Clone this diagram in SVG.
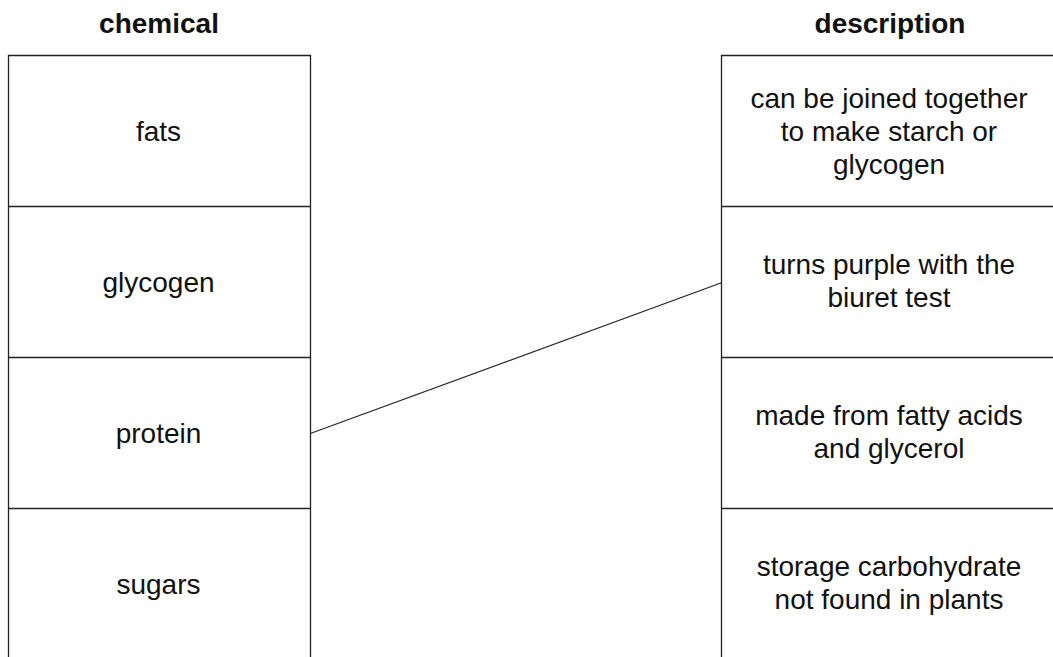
<svg xmlns="http://www.w3.org/2000/svg" width="1053" height="657" viewBox="0 0 1053 657">
<style>
.box{fill:none;stroke:#222;stroke-width:1.3}
.t{font-family:"Liberation Sans",Arial,sans-serif;font-size:28px;fill:#111;text-anchor:middle}
.h{font-weight:bold}
.c{stroke:#222;stroke-width:1.2;fill:none}
</style>
<rect width="1053" height="657" fill="#fff"/>
<g id="headers">
<text class="t h" x="159" y="33">chemical</text>
<text class="t h" x="890" y="33">description</text>
</g>
<g id="left-column">
<path class="box" d="M8.5,657 V55.5 H310.5 V657"/>
</g>
<g id="chem-fats"><text class="t" x="158.5" y="140.5">fats</text></g>
<g id="chem-glycogen"><path class="box" d="M8.5,206.5 H310.5"/><text class="t" x="158.5" y="291.5">glycogen</text></g>
<g id="chem-protein"><path class="box" d="M8.5,357.5 H310.5"/><text class="t" x="158.5" y="442.5">protein</text></g>
<g id="chem-sugars"><path class="box" d="M8.5,508.5 H310.5"/><text class="t" x="158.5" y="593.5">sugars</text></g>
<g id="right-column">
<path class="box" d="M721.5,657 V55.5 H1053"/>
</g>
<g id="desc-1"><text class="t" x="889" y="108">can be joined together</text><text class="t" x="889" y="141">to make starch or</text><text class="t" x="889" y="174">glycogen</text></g>
<g id="desc-2"><path class="box" d="M721.5,206.5 H1053"/><text class="t" x="889" y="274">turns purple with the</text><text class="t" x="889" y="307">biuret test</text></g>
<g id="desc-3"><path class="box" d="M721.5,357.5 H1053"/><text class="t" x="889" y="425">made from fatty acids</text><text class="t" x="889" y="458">and glycerol</text></g>
<g id="desc-4"><path class="box" d="M721.5,508.5 H1053"/><text class="t" x="889" y="576">storage carbohydrate</text><text class="t" x="889" y="609">not found in plants</text></g>
<g id="connectors">
<line class="c" x1="311" y1="433.3" x2="721.5" y2="282.7"/>
</g>
</svg>
